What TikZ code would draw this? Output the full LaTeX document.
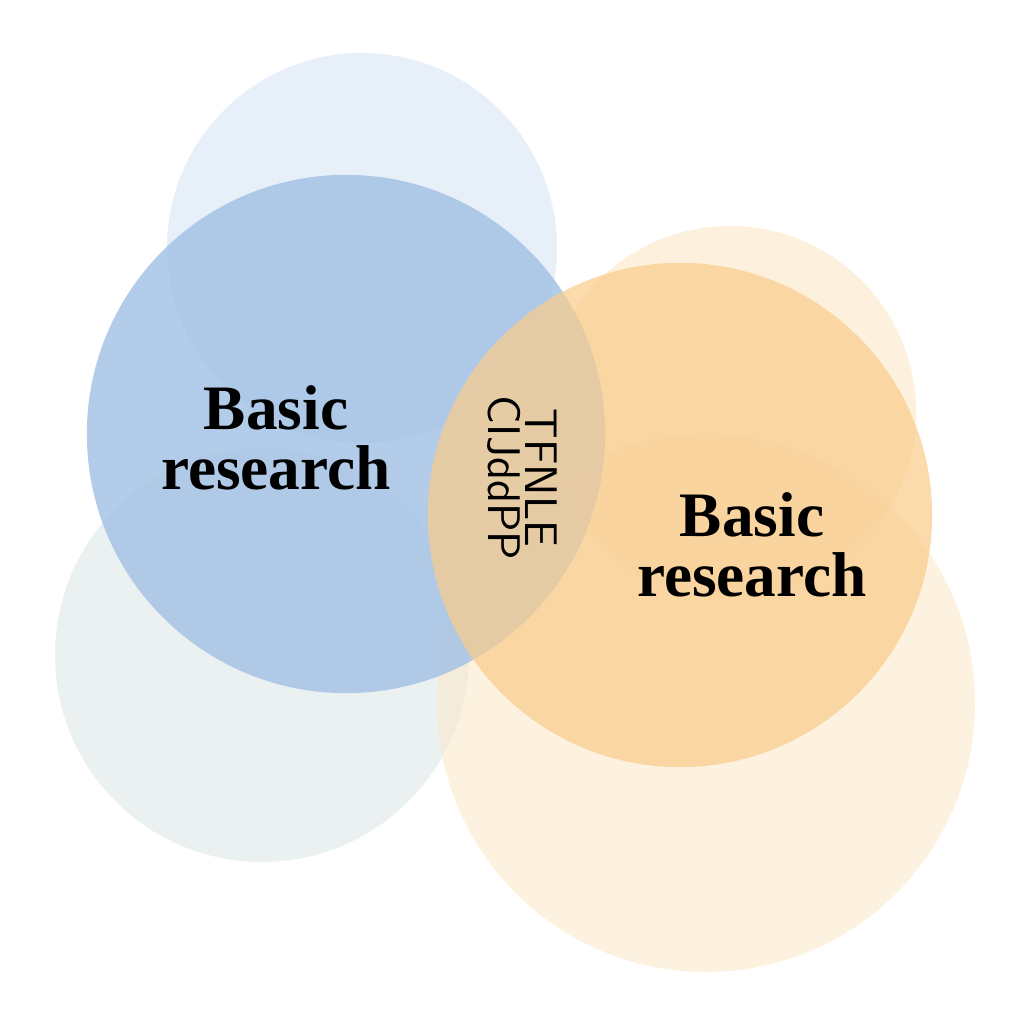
\documentclass[tikz,border=0pt]{standalone}
\usepackage{fontspec}
\setmainfont{Liberation Serif}
\usetikzlibrary{positioning}
\definecolor{bluemain}{RGB}{160,192,228}
\definecolor{bluefaint}{RGB}{222,234,246}
\definecolor{greyfaint}{RGB}{222,232,232}
\definecolor{orangemain}{RGB}{250,204,140}
\definecolor{orangefaint}{RGB}{252,232,200}
\begin{document}
\begin{tikzpicture}[x=0.01cm,y=-0.01cm,disc/.style={circle, draw=none, inner sep=0pt}]
    \tikzset{label/.style={align=center, font=\fontsize{18}{17}\selectfont\bfseries, text=black}}
    \tikzset{twisted/.style={align=center, rotate=-90, font=\fontsize{13}{10.5}\selectfont\sffamily, text=black}}
    \useasboundingbox[fill=white] (0,0) rectangle (1024,1024);
    % faint circles behind
    \fill[bluefaint, opacity=0.7] (362,248) circle (195);
    \fill[greyfaint, opacity=0.6] (262,655) circle (207);
    \fill[orangefaint, opacity=0.6] (730,412) circle (186);
    \fill[orangefaint, opacity=0.55] (706,703) circle (269);
    % main circles
    \node[disc, fill=bluemain, opacity=0.8, minimum size=5.18cm] (blue) at (346,434) {};
    \node[disc, fill=orangemain, opacity=0.72, minimum size=5.04cm] (orange) at (680,515) {};
    % labels
    \node[label] (left) at (276,438) {Basic\\research};
    \node[label] (right) at (752,545) {Basic\\research};
    \node[twisted] (mid) at (522,478) {TFNLE\\CIJddPP};
\end{tikzpicture}
\end{document}
